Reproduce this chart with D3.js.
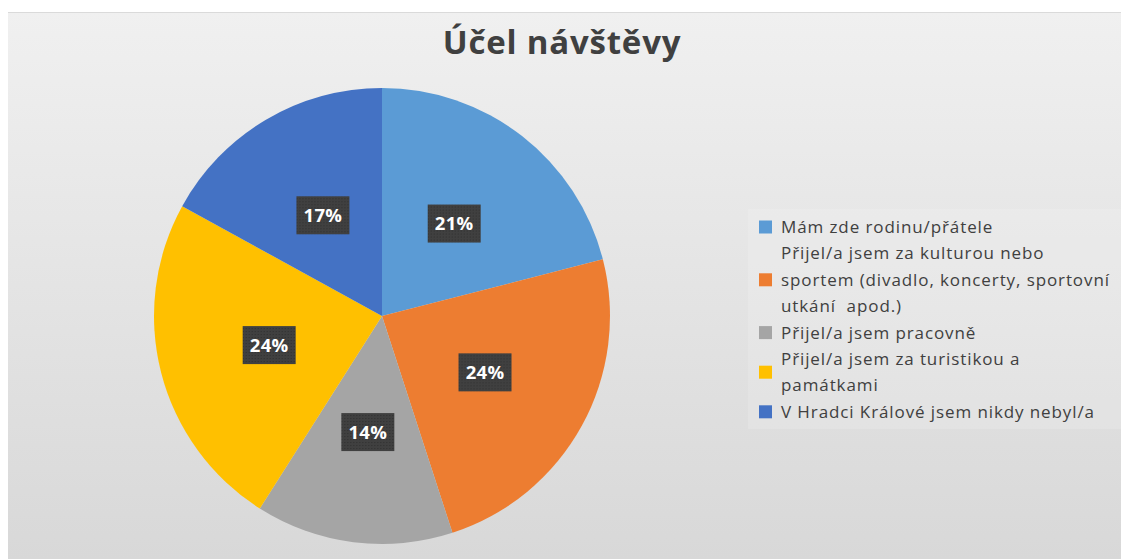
<!DOCTYPE html>
<html><head><meta charset="utf-8">
<script src="https://cdn.jsdelivr.net/npm/d3@7"></script>
<style>html,body{margin:0;padding:0;background:#fff;}svg{display:block;}text{white-space:pre;}</style>
</head><body>
<svg id="c" width="1121" height="559"></svg>
<script>
const title = "Účel návštěvy";
const categories = [
  "Mám zde rodinu/přátele",
  "Přijel/a jsem za kulturou nebo sportem (divadlo, koncerty, sportovní utkání  apod.)",
  "Přijel/a jsem pracovně",
  "Přijel/a jsem za turistikou a památkami",
  "V Hradci Králové jsem nikdy nebyl/a"
];
const legendLines = [
  ["Mám zde rodinu/přátele"],
  ["Přijel/a jsem za kulturou nebo", "sportem (divadlo, koncerty, sportovní", "utkání  apod.)"],
  ["Přijel/a jsem pracovně"],
  ["Přijel/a jsem za turistikou a", "památkami"],
  ["V Hradci Králové jsem nikdy nebyl/a"]
];
const values = [21, 24, 14, 24, 17];
const colors = ["#5B9BD5", "#ED7D31", "#A5A5A5", "#FFC000", "#4472C4"];

const svg = d3.select("#c");
const W = 1121, H = 559;
const defs = svg.append("defs");
const grad = defs.append("linearGradient").attr("id","bg").attr("x1",0).attr("y1",0).attr("x2",0).attr("y2",1);
grad.append("stop").attr("offset","0%").attr("stop-color","#f0f0f0");
grad.append("stop").attr("offset","100%").attr("stop-color","#d8d8d8");
const pat = defs.append("pattern").attr("id","dots").attr("width",3).attr("height",3).attr("patternUnits","userSpaceOnUse");
pat.append("rect").attr("width",3).attr("height",3).attr("fill","#404040");
pat.append("rect").attr("x",1).attr("y",1).attr("width",1).attr("height",1).attr("fill","#2e2e2e");

svg.append("rect").attr("x",8).attr("y",12).attr("width",W-8).attr("height",H-12).attr("fill","url(#bg)");
svg.append("line").attr("x1",8).attr("x2",W).attr("y1",12.5).attr("y2",12.5).attr("stroke","#dadada");

svg.append("text").attr("x",562).attr("y",54).attr("text-anchor","middle")
  .attr("font-family","'Open Sans', sans-serif").attr("font-weight","bold").attr("font-size",33)
  .attr("letter-spacing",0.8)
  .attr("fill","#404040").text(title);

const cx = 382, cy = 316, r = 228;
const pie = d3.pie().sort(null).value(d => d)(values);
const arc = d3.arc().innerRadius(0).outerRadius(r);
const labelArc = d3.arc().innerRadius(117).outerRadius(117);
const g = svg.append("g").attr("transform",`translate(${cx},${cy})`);
g.selectAll("path").data(pie).join("path").attr("d",arc).attr("fill",(d,i)=>colors[i]);

const total = d3.sum(values);
const lab = g.selectAll("g.lab").data(pie).join("g").attr("class","lab")
  .attr("transform", d => `translate(${labelArc.centroid(d)})`);
lab.append("rect").attr("x",-26).attr("y",-19).attr("width",53).attr("height",38).attr("fill","url(#dots)");
lab.append("text").attr("x",0.5).attr("text-anchor","middle").attr("dy","0.36em")
  .attr("font-family","'Open Sans', sans-serif").attr("font-weight","bold").attr("font-size",18.5)
  .attr("letter-spacing",0.3)
  .attr("fill","#ffffff").text(d => Math.round(d.data/total*100) + "%");

// legend
svg.append("rect").attr("x",748).attr("y",209).attr("width",W-748).attr("height",220).attr("fill","#ffffff").attr("opacity",0.15);
const lineH = 26.4;
let row = 0;
const lg = svg.append("g");
legendLines.forEach((lines, i) => {
  const first = row;
  lines.forEach(t => {
    lg.append("text").attr("x",781).attr("y",227 + row*lineH).attr("dy","0.35em")
      .attr("font-family","'Open Sans', sans-serif").attr("font-size",17).attr("letter-spacing",0.9)
      .attr("fill","#404040").text(t);
    row++;
  });
  const mid = 227 + ((first + row - 1)/2)*lineH;
  lg.append("rect").attr("x",759).attr("y",mid-6.5).attr("width",13).attr("height",13).attr("fill",colors[i]);
});
</script>
</body></html>
